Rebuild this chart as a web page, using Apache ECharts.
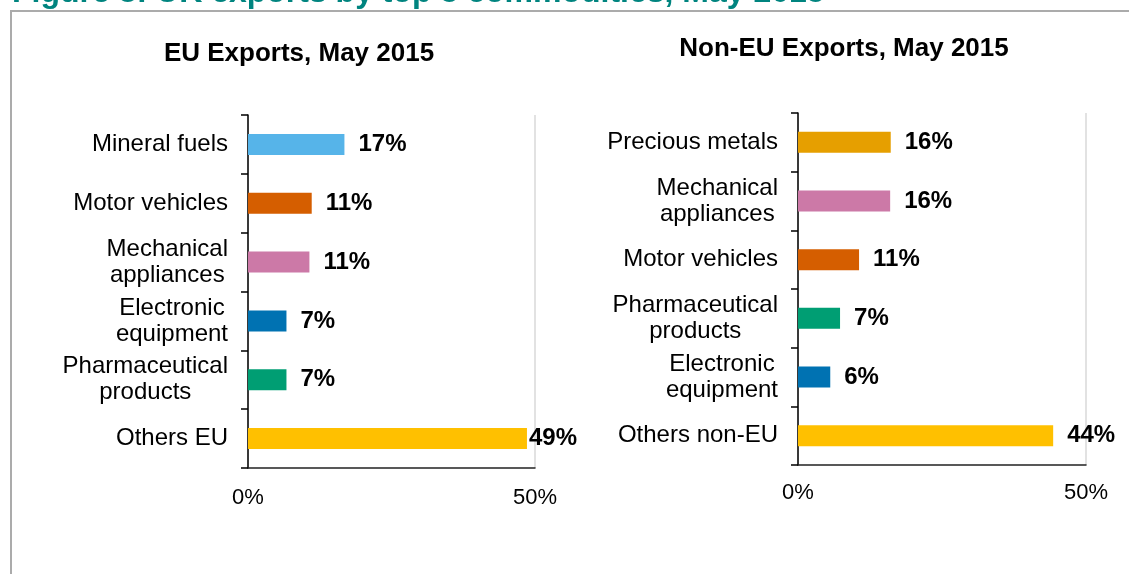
<!DOCTYPE html>
<html><head><meta charset="utf-8">
<script src="https://cdn.jsdelivr.net/npm/echarts@6/dist/echarts.min.js"></script>
<style>html,body{margin:0;padding:0;background:#fff;overflow:hidden}#c{width:1129px;height:574px}</style>
</head><body><div id="c"></div>
<script>
const figureTitle = 'Figure 8: UK exports by top 5 commodities, May 2015';
const euTitle = 'EU Exports, May 2015';
const nonEuTitle = 'Non-EU Exports, May 2015';

const euCategories = ['Mineral fuels', 'Motor vehicles', 'Mechanical\nappliances', 'Electronic\nequipment', 'Pharmaceutical\nproducts', 'Others EU'];
const euValues = [16.8, 11.1, 10.7, 6.7, 6.7, 48.6];
const euColors = ['#56B4E9', '#D55E00', '#CC79A7', '#0072B2', '#009E73', '#FFC000'];

const nonEuCategories = ['Precious metals', 'Mechanical\nappliances', 'Motor vehicles', 'Pharmaceutical\nproducts', 'Electronic\nequipment', 'Others non-EU'];
const nonEuValues = [16.1, 16.0, 10.6, 7.3, 5.6, 44.3];
const nonEuColors = ['#E69F00', '#CC79A7', '#D55E00', '#009E73', '#0072B2', '#FFC000'];

const axisMin = 0, axisMax = 50;

const FONT = '"Liberation Sans", Arial, sans-serif';

function catAxis(idx, cats) {
  return {
    gridIndex: idx, type: 'category', inverse: true, data: cats,
    axisLine: {show: true, lineStyle: {color: '#000', width: 1.5}},
    axisTick: {show: true, length: 7, lineStyle: {color: '#000', width: 1.5}},
    axisLabel: {
      margin: 20, color: '#000', fontFamily: FONT, fontSize: 24,
      formatter: v => v.split('\n').map(l => '{c|' + l + '}').join('\n'),
      rich: {c: {align: 'center', fontFamily: FONT, fontSize: 24, lineHeight: 26, color: '#000'}}
    }
  };
}
function valAxis(idx, margin) {
  return {
    gridIndex: idx, type: 'value', min: axisMin, max: axisMax, interval: axisMax - axisMin,
    axisLine: {show: true, lineStyle: {color: '#222', width: 1.5}},
    axisTick: {show: false},
    splitLine: {show: true, lineStyle: {color: '#D9D9D9', width: 1.5}},
    axisLabel: {formatter: '{value}%', fontSize: 22, color: '#000', margin: margin, fontFamily: FONT}
  };
}
function barSeries(idx, values, colors) {
  return {
    type: 'bar', xAxisIndex: idx, yAxisIndex: idx, barWidth: 21,
    data: values.map((v, i) => ({value: v, itemStyle: {color: colors[i]}, label: {distance: v > 46 ? 2 : 14}})),
    label: {show: true, position: 'right', formatter: p => Math.round(p.value) + '%',
      fontFamily: FONT, fontSize: 24, fontWeight: 'bold', color: '#000'}
  };
}

const chart = echarts.init(document.getElementById('c'));
chart.setOption({
  animation: false,
  backgroundColor: '#fff',
  title: [
    {text: figureTitle, left: 12, top: -23, padding: 0,
      textStyle: {fontFamily: FONT, fontSize: 32, fontWeight: 'bold', color: '#00847F', lineHeight: 32}},
    {text: euTitle, left: 299, top: 41, textAlign: 'center', padding: 0,
      textStyle: {fontFamily: FONT, fontSize: 26, fontWeight: 'bold', color: '#000', lineHeight: 26}},
    {text: nonEuTitle, left: 844, top: 36, textAlign: 'center', padding: 0,
      textStyle: {fontFamily: FONT, fontSize: 26, fontWeight: 'bold', color: '#000', lineHeight: 26}}
  ],
  graphic: [{type: 'rect', shape: {x: 11, y: 11, width: 1300, height: 800}, silent: true,
    style: {fill: 'none', stroke: '#ABABAB', lineWidth: 2}}],
  grid: [
    {left: 248, right: 1129 - 535, top: 115, bottom: 574 - 468, outerBoundsMode: 'none'},
    {left: 798, right: 1129 - 1086, top: 113, bottom: 574 - 465, outerBoundsMode: 'none'}
  ],
  xAxis: [valAxis(0, 19), valAxis(1, 17)],
  yAxis: [catAxis(0, euCategories), catAxis(1, nonEuCategories)],
  series: [barSeries(0, euValues, euColors), barSeries(1, nonEuValues, nonEuColors)]
});
</script></body></html>
